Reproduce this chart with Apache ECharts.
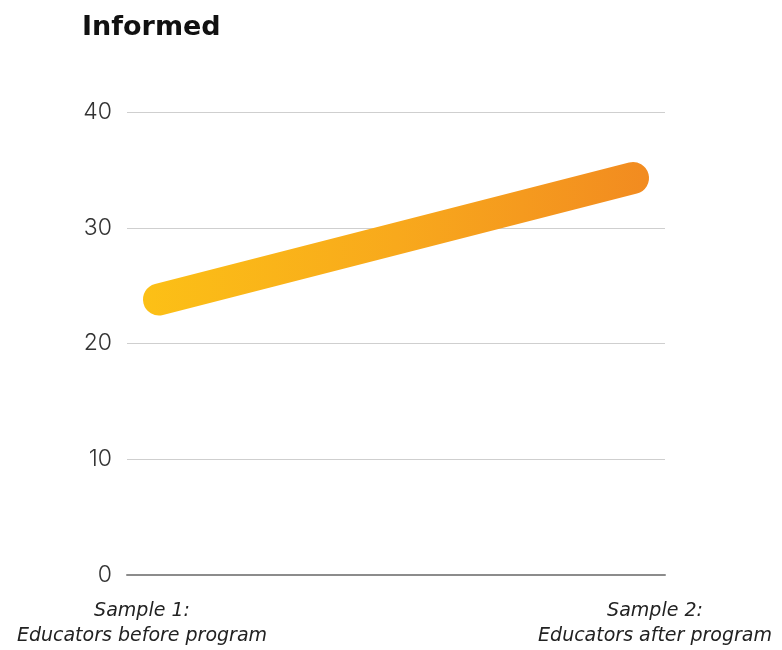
<!DOCTYPE html>
<html>
<head>
<meta charset="utf-8">
<script src="https://cdn.jsdelivr.net/npm/echarts@6/dist/echarts.min.js"></script>
<style>
  html, body { margin: 0; padding: 0; background: #ffffff; }
  #chart { width: 782px; height: 650px; }
</style>
</head>
<body>
<div id="chart"></div>
<script>
// Survey samples and the "Informed" score for each
const categories = ['Sample 1:\nEducators before program', 'Sample 2:\nEducators after program'];
const informedValues = [23.8, 34.3];
const yTicks = [0, 10, 20, 30, 40];

const chart = echarts.init(document.getElementById('chart'));

const FONT = 'Inter, "Noto Sans", sans-serif';
const WIDE_FONT = '"DejaVu Sans", Inter, sans-serif';

const seriesData = informedValues.map((v, i) => [i, v]);

const labelStyle = {
  align: 'center',
  verticalAlign: 'top',
  fontFamily: WIDE_FONT,
  fontSize: 19,
  fontStyle: 'italic',
  lineHeight: 25,
  fill: '#222222'
};

chart.setOption({
  backgroundColor: '#ffffff',
  animation: false,
  title: {
    text: 'Informed',
    left: 77,
    top: 9,
    textStyle: { fontFamily: WIDE_FONT, fontSize: 27, fontWeight: 'bold', color: '#111111' }
  },
  grid: { left: 127, right: 117, top: 112, bottom: 75 },
  xAxis: {
    type: 'value',
    min: -0.0675,
    max: 1.0675,
    axisLine: { show: true, onZero: false, lineStyle: { color: '#8c8c8c', width: 2 } },
    axisTick: { show: false },
    axisLabel: { show: false },
    splitLine: { show: false }
  },
  yAxis: {
    type: 'value',
    min: yTicks[0],
    max: yTicks[yTicks.length - 1],
    interval: 10,
    axisLine: { show: false },
    axisTick: { show: false },
    axisLabel: {
      margin: 15,
      fontFamily: FONT,
      fontSize: 23,
      fontWeight: 300,
      color: '#333333'
    },
    splitLine: { lineStyle: { color: '#cfcfcf', width: 1 } }
  },
  graphic: [
    {
      type: 'text',
      x: 142,
      y: 599,
      style: Object.assign({ text: categories[0] }, labelStyle)
    },
    {
      type: 'text',
      x: 655,
      y: 599,
      style: Object.assign({ text: categories[1] }, labelStyle)
    }
  ],
  series: [{
    type: 'line',
    data: seriesData,
    showSymbol: false,
    lineStyle: {
      width: 32,
      cap: 'round',
      color: new echarts.graphic.LinearGradient(0, 0, 1, 0, [
        { offset: 0, color: '#fcc016' },
        { offset: 0.5, color: '#f8a91c' },
        { offset: 1, color: '#f28b20' }
      ])
    }
  }]
});
</script>
</body>
</html>
